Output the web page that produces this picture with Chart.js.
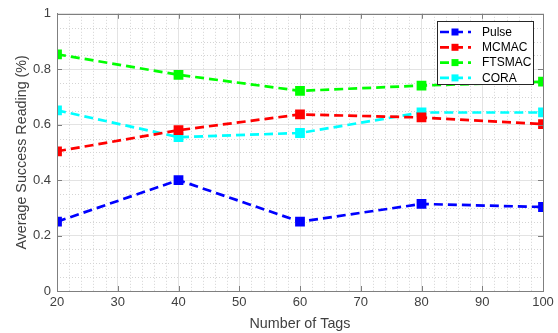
<!DOCTYPE html>
<html>
<head>
<meta charset="utf-8">
<script src="https://cdn.jsdelivr.net/npm/chart.js@4/dist/chart.umd.min.js"></script>
<style>
  html, body { margin: 0; padding: 0; background: #fff; }
  #wrap { width: 558px; height: 333px; }
</style>
</head>
<body>
<div id="wrap"><canvas id="chart"></canvas></div>
<script>
// data
const tags = [20, 40, 60, 80, 100];
const pulse = [0.25, 0.40, 0.25, 0.314, 0.303];
const mcmac = [0.504, 0.58, 0.637, 0.626, 0.602];
const ftsmac = [0.854, 0.78, 0.722, 0.741, 0.755];
const cora = [0.652, 0.555, 0.57, 0.644, 0.644];
const seriesNames = ['Pulse', 'MCMAC', 'FTSMAC', 'CORA'];
const seriesColors = ['#0000ff', '#ff0000', '#00ff00', '#00ffff'];
const xTicks = [20, 30, 40, 50, 60, 70, 80, 90, 100];
const yTicks = [0, 0.2, 0.4, 0.6, 0.8, 1];

const FONT = '"Liberation Sans", Arial, sans-serif';
const TEXT = '#404040';
const AXIS = '#7f7f7f';

function makeSet(label, values, color) {
    return {
        label: label,
        data: tags.map((t, i) => ({ x: t, y: values[i] })),
        borderColor: color,
        backgroundColor: color,
        borderWidth: 2.7,
        borderDash: [9, 5],
        pointStyle: 'rect',
        pointRadius: 5,
        pointHoverRadius: 5,
        tension: 0
    };
}

// minor dotted grid, box outline, inward tick marks, legend
const frame = {
    id: 'frame',
    beforeDatasetsDraw(chart) {
        const { ctx, chartArea: a, scales: { x, y } } = chart;
        ctx.save();
        ctx.lineWidth = 1;
        ctx.strokeStyle = '#d4d4d4';
        ctx.setLineDash([1, 2]);
        for (let v = 20; v <= 100; v += 2) {
            if (v % 10 === 0) continue;
            const px = Math.round(x.getPixelForValue(v)) + 0.5;
            ctx.beginPath(); ctx.moveTo(px, a.top); ctx.lineTo(px, a.bottom); ctx.stroke();
        }
        for (let k = 1; k < 20; k++) {
            if (k % 4 === 0) continue;
            const py = Math.round(y.getPixelForValue(k * 0.05)) + 0.5;
            ctx.beginPath(); ctx.moveTo(a.left, py); ctx.lineTo(a.right, py); ctx.stroke();
        }
        ctx.restore();
    },
    afterDatasetsDraw(chart) {
        const { ctx, chartArea: a, scales: { x, y } } = chart;
        ctx.save();
        ctx.strokeStyle = AXIS;
        ctx.lineWidth = 1;
        ctx.strokeRect(Math.round(a.left) + 0.5, Math.round(a.top) + 0.5,
            Math.round(a.right - a.left), Math.round(a.bottom - a.top));
        const t = 5;
        xTicks.forEach(v => {
            const px = Math.round(x.getPixelForValue(v)) + 0.5;
            ctx.beginPath();
            ctx.moveTo(px, a.bottom); ctx.lineTo(px, a.bottom - t);
            ctx.moveTo(px, a.top); ctx.lineTo(px, a.top + t);
            ctx.stroke();
        });
        yTicks.forEach(v => {
            const py = Math.round(y.getPixelForValue(v)) + 0.5;
            ctx.beginPath();
            ctx.moveTo(a.left, py); ctx.lineTo(a.left + t, py);
            ctx.moveTo(a.right, py); ctx.lineTo(a.right - t, py);
            ctx.stroke();
        });

        // legend box
        const bx = 437.5, by = 21.5, bw = 96, bh = 63;
        ctx.fillStyle = '#fff';
        ctx.fillRect(bx, by, bw, bh);
        ctx.strokeStyle = '#262626';
        ctx.strokeRect(bx, by, bw, bh);
        ctx.font = '12px ' + FONT;
        ctx.textBaseline = 'middle';
        chart.data.datasets.forEach((ds, i) => {
            const ry = 32 + i * 15.3;
            ctx.strokeStyle = ds.borderColor;
            ctx.lineWidth = 2.7;
            ctx.setLineDash([9, 5]);
            ctx.beginPath(); ctx.moveTo(440, ry); ctx.lineTo(471, ry); ctx.stroke();
            ctx.setLineDash([]);
            ctx.fillStyle = ds.borderColor;
            ctx.fillRect(455 - 3.5, ry - 3.5, 7, 7);
            ctx.fillStyle = '#000';
            ctx.fillText(ds.label, 482, ry + 0.5);
        });
        ctx.restore();
    }
};

new Chart(document.getElementById('chart'), {
    type: 'line',
    data: {
        datasets: [
            makeSet(seriesNames[0], pulse, seriesColors[0]),
            makeSet(seriesNames[1], mcmac, seriesColors[1]),
            makeSet(seriesNames[2], ftsmac, seriesColors[2]),
            makeSet(seriesNames[3], cora, seriesColors[3])
        ]
    },
    options: {
        responsive: true,
        maintainAspectRatio: false,
        animation: false,
        layout: { padding: { top: 12, right: 15, left: 0, bottom: 0 } },
        plugins: {
            legend: { display: false },
            tooltip: { enabled: false }
        },
        scales: {
            x: {
                type: 'linear',
                min: 20,
                max: 100,
                afterBuildTicks: s => { s.ticks = xTicks.map(v => ({ value: v })); },
                afterFit: s => { s.height = 42; },
                ticks: { color: TEXT, font: { family: FONT, size: 13 }, padding: 4, maxRotation: 0 },
                grid: { color: '#e3e3e3', lineWidth: 1, drawTicks: false },
                border: { color: AXIS },
                title: {
                    display: true, text: 'Number of Tags', color: TEXT,
                    font: { family: FONT, size: 14.3 }, padding: { top: 2, bottom: 0 }
                }
            },
            y: {
                min: 0,
                max: 1,
                afterBuildTicks: s => { s.ticks = yTicks.map(v => ({ value: v })); },
                afterFit: s => { s.width = 57; },
                ticks: {
                    color: TEXT, font: { family: FONT, size: 13 }, padding: 6,
                    callback: v => String(Number(v.toFixed(1)))
                },
                grid: { color: '#e3e3e3', lineWidth: 1, drawTicks: false },
                border: { color: AXIS },
                title: {
                    display: true, text: 'Average Success Reading (%)', color: TEXT,
                    font: { family: FONT, size: 14.3 }, padding: { top: 13, bottom: 0 }
                }
            }
        }
    },
    plugins: [frame]
});
</script>
</body>
</html>
